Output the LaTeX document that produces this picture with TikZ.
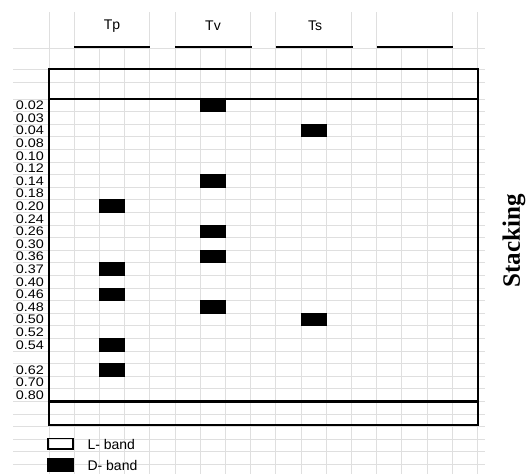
\documentclass[tikz,border=0pt]{standalone}
\usepackage{fontspec}
\setmainfont{Liberation Serif}
\setsansfont{Liberation Sans}
\tikzset{
  gridline/.style={gray!25,line width=0.7pt},
  frame/.style={line width=2.2pt},
  headline/.style={line width=2pt},
  band/.style={fill=black},
  rowlabel/.style={anchor=east,inner sep=0pt,xscale=1.16,font=\sffamily\fontsize{12.4}{13}\selectfont},
  head/.style={font=\sffamily\fontsize{14}{15}\selectfont}
}
\begin{document}
\begin{tikzpicture}[x=1pt,y=-1pt]
    \useasboundingbox (0,0) rectangle (526,474);

    % Sheet grid
    \foreach \x in {49,74.2,149.8,175,250.6,275.8,351.4,376.6,452.2,477.4}
        \draw[gridline] (\x,12) -- (\x,48);
    \foreach \i in {0,...,17}
        \draw[gridline] (49+25.2*\i,48) -- (49+25.2*\i,474);
    \foreach \y in {48,69,82}
        \draw[gridline] (13,\y) -- (485,\y);
    \foreach \j in {0,...,29}
        \draw[gridline] (13,99+12.6*\j) -- (485,99+12.6*\j);

    % Column heads
    \draw[headline] (74,47) -- (150,47);
    \draw[headline] (175,47) -- (252,47);
    \draw[headline] (276,47) -- (353,47);
    \draw[headline] (377,47) -- (453,47);
    \node[head] (tp) at (112,26) {Tp};
    \node[head] (tv) at (213,26) {Tv};
    \node[head] (ts) at (315,26) {Ts};

    % Gel frame
    \draw[frame] (49,69) rectangle (478,425);
    \draw[frame] (49,99) -- (478,99);
    \draw[frame] (49,401.4) -- (478,401.4);

    % Rf values
    \foreach \r/\v in {0/0.02,1/0.03,2/0.04,3/0.08,4/0.10,5/0.12,6/0.14,7/0.18,
                       8/0.20,9/0.24,10/0.26,11/0.30,12/0.36,13/0.37,14/0.40,15/0.46,
                       16/0.48,17/0.50,18/0.52,19/0.54,21/0.62,22/0.70,23/0.80}
        \node[rowlabel] (rf\r) at (44,105.5+12.6*\r) {\v};

    % D-bands
    \foreach \r in {8,13,15,19,21}
        \fill[band] (99.4,98.6+12.6*\r) rectangle +(26,13.6);
    \foreach \r in {0,6,10,12,16}
        \fill[band] (200.2,98.6+12.6*\r) rectangle +(26,13.6);
    \foreach \r in {2,17}
        \fill[band] (301,98.6+12.6*\r) rectangle +(26,13.6);

    % Side title
    \node[rotate=90,font=\bfseries\fontsize{25}{28}\selectfont] (stack) at (514,241) {Stacking};

    % Legend
    \draw[line width=1.8pt] (48,438.5) rectangle (73,449);
    \node[head,anchor=west] (lband) at (84,444) {L- band};
    \fill[band] (47,458) rectangle (74,472);
    \node[head,anchor=west] (dband) at (84,465) {D- band};
\end{tikzpicture}
\end{document}
